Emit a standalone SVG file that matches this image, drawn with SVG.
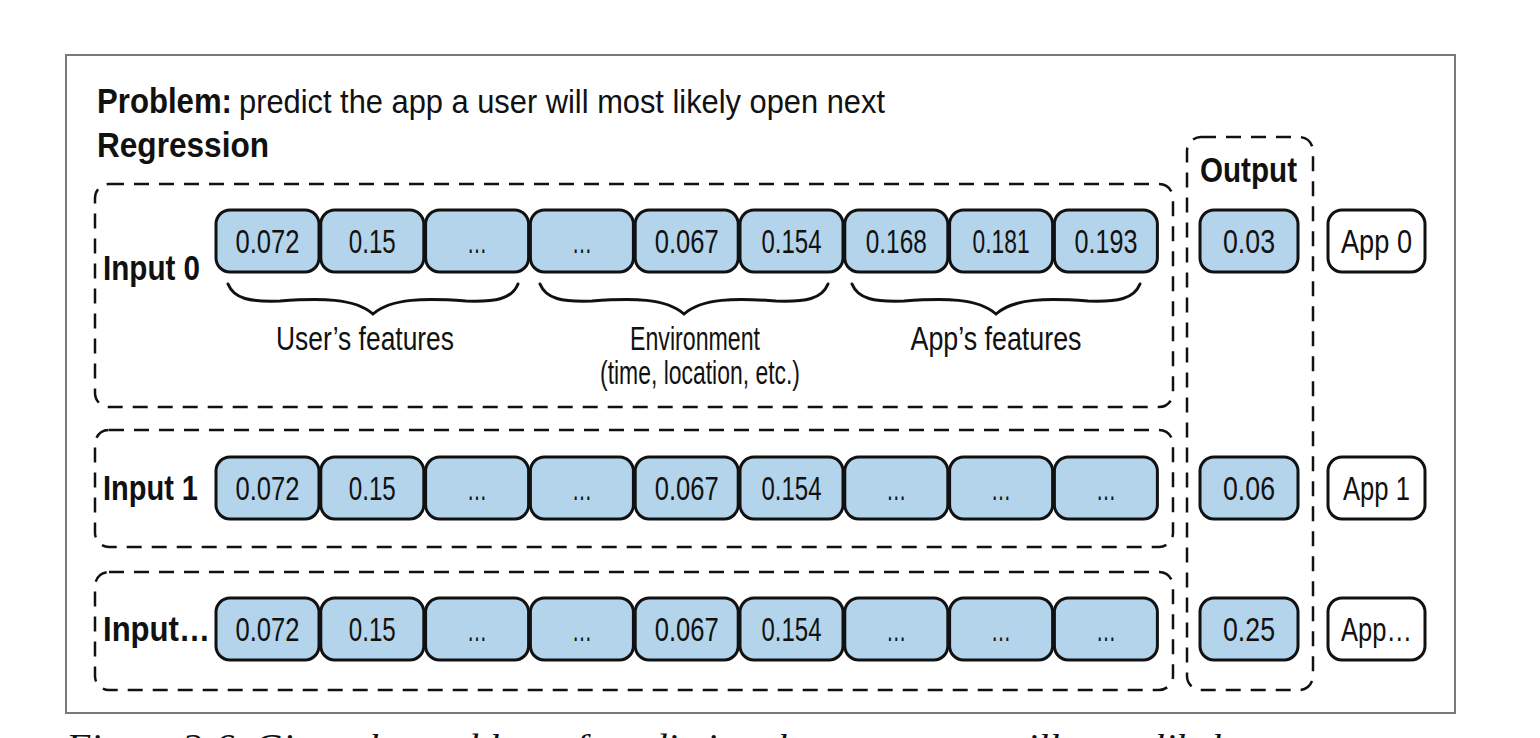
<svg xmlns="http://www.w3.org/2000/svg" width="1540" height="738" viewBox="0 0 1540 738">
<style>
.frame{fill:#fff;stroke:#7a7a7a;stroke-width:2}
.box{fill:#b3d4ea;stroke:#111;stroke-width:3}
.app{fill:#fff;stroke:#111;stroke-width:3}
.dash{fill:none;stroke:#111;stroke-width:2.5;stroke-dasharray:15 10}
.brace{fill:none;stroke:#111;stroke-width:3;stroke-linecap:round}
.num{font-family:"Liberation Sans",Arial,sans-serif;font-size:34px;text-anchor:middle;fill:#111}
.lbl{font-family:"Liberation Sans",Arial,sans-serif;font-weight:bold;font-size:35px;fill:#111}
.reg{font-family:"Liberation Sans",Arial,sans-serif;font-size:33px;fill:#111}
.cap{font-family:"Liberation Serif","Times New Roman",serif;font-style:italic;font-size:36px;fill:#111}
</style>
<rect width="1540" height="738" fill="#fff"/>
<rect class="frame" x="66" y="55" width="1389" height="658"/>

<g id="title">
<text class="lbl" x="97" y="113" font-size="34" textLength="135" lengthAdjust="spacingAndGlyphs">Problem:</text>
<text class="reg" x="239" y="113" textLength="646" lengthAdjust="spacingAndGlyphs">predict the app a user will most likely open next</text>
<text class="lbl" x="97" y="157" font-size="34" textLength="172" lengthAdjust="spacingAndGlyphs">Regression</text>
</g>

<g id="groups">
<rect id="input0-group" class="dash" x="95" y="184" width="1078" height="223" rx="14"/>
<rect id="input1-group" class="dash" x="95" y="430" width="1078" height="117" rx="14"/>
<rect id="inputn-group" class="dash" x="95" y="572" width="1078" height="118" rx="14"/>
<rect id="output-group" class="dash" x="1187" y="137" width="126" height="553" rx="14"/>
<text class="lbl" x="1200" y="182" textLength="97" lengthAdjust="spacingAndGlyphs">Output</text>
</g>

<g id="input0">
<text class="lbl" x="103" y="280" textLength="97" lengthAdjust="spacingAndGlyphs">Input 0</text>
<rect class="box" x="216" y="210" width="103" height="62" rx="14"/>
<rect class="box" x="320.8" y="210" width="103" height="62" rx="14"/>
<rect class="box" x="425.6" y="210" width="103" height="62" rx="14"/>
<rect class="box" x="530.4" y="210" width="103" height="62" rx="14"/>
<rect class="box" x="635.2" y="210" width="103" height="62" rx="14"/>
<rect class="box" x="740" y="210" width="103" height="62" rx="14"/>
<rect class="box" x="844.8" y="210" width="103" height="62" rx="14"/>
<rect class="box" x="949.6" y="210" width="103" height="62" rx="14"/>
<rect class="box" x="1054.4" y="210" width="103" height="62" rx="14"/>
<text class="num" x="267.5" y="253" textLength="64" lengthAdjust="spacingAndGlyphs">0.072</text>
<text class="num" x="372.3" y="253" textLength="47" lengthAdjust="spacingAndGlyphs">0.15</text>
<text class="num" x="477.1" y="253" textLength="20" lengthAdjust="spacingAndGlyphs">…</text>
<text class="num" x="581.9" y="253" textLength="20" lengthAdjust="spacingAndGlyphs">…</text>
<text class="num" x="686.7" y="253" textLength="64" lengthAdjust="spacingAndGlyphs">0.067</text>
<text class="num" x="791.5" y="253" textLength="60" lengthAdjust="spacingAndGlyphs">0.154</text>
<text class="num" x="896.3" y="253" textLength="61" lengthAdjust="spacingAndGlyphs">0.168</text>
<text class="num" x="1001.1" y="253" textLength="57" lengthAdjust="spacingAndGlyphs">0.181</text>
<text class="num" x="1105.9" y="253" textLength="63" lengthAdjust="spacingAndGlyphs">0.193</text>
</g>

<g id="braces">
<path class="brace" d="M228,284 C234,299 250,302 280,301 C320,298 355,298 373,314 C391,298 426,298 466,301 C496,302 512,299 518,284"/>
<path class="brace" d="M540,284 C546,299 562,302 592,301 C632,298 666,298 684,314 C702,298 736,298 776,301 C806,302 822,299 828,284"/>
<path class="brace" d="M852,284 C858,299 874,302 904,301 C944,298 978,298 996,314 C1014,298 1048,298 1088,301 C1118,302 1134,299 1140,284"/>
<text class="reg" x="365" y="350" text-anchor="middle" font-size="31" textLength="178" lengthAdjust="spacingAndGlyphs">User’s features</text>
<text class="reg" x="695" y="350" text-anchor="middle" font-size="31" textLength="130" lengthAdjust="spacingAndGlyphs">Environment</text>
<text class="reg" x="700" y="384" text-anchor="middle" font-size="31" textLength="200" lengthAdjust="spacingAndGlyphs">(time, location, etc.)</text>
<text class="reg" x="996" y="350" text-anchor="middle" font-size="31" textLength="171" lengthAdjust="spacingAndGlyphs">App’s features</text>
</g>

<g id="input1">
<text class="lbl" x="103" y="500" textLength="95" lengthAdjust="spacingAndGlyphs">Input 1</text>
<rect class="box" x="216" y="457" width="103" height="62" rx="14"/>
<rect class="box" x="320.8" y="457" width="103" height="62" rx="14"/>
<rect class="box" x="425.6" y="457" width="103" height="62" rx="14"/>
<rect class="box" x="530.4" y="457" width="103" height="62" rx="14"/>
<rect class="box" x="635.2" y="457" width="103" height="62" rx="14"/>
<rect class="box" x="740" y="457" width="103" height="62" rx="14"/>
<rect class="box" x="844.8" y="457" width="103" height="62" rx="14"/>
<rect class="box" x="949.6" y="457" width="103" height="62" rx="14"/>
<rect class="box" x="1054.4" y="457" width="103" height="62" rx="14"/>
<text class="num" x="267.5" y="500" textLength="64" lengthAdjust="spacingAndGlyphs">0.072</text>
<text class="num" x="372.3" y="500" textLength="47" lengthAdjust="spacingAndGlyphs">0.15</text>
<text class="num" x="477.1" y="500" textLength="20" lengthAdjust="spacingAndGlyphs">…</text>
<text class="num" x="581.9" y="500" textLength="20" lengthAdjust="spacingAndGlyphs">…</text>
<text class="num" x="686.7" y="500" textLength="64" lengthAdjust="spacingAndGlyphs">0.067</text>
<text class="num" x="791.5" y="500" textLength="60" lengthAdjust="spacingAndGlyphs">0.154</text>
<text class="num" x="896.3" y="500" textLength="20" lengthAdjust="spacingAndGlyphs">…</text>
<text class="num" x="1001.1" y="500" textLength="20" lengthAdjust="spacingAndGlyphs">…</text>
<text class="num" x="1105.9" y="500" textLength="20" lengthAdjust="spacingAndGlyphs">…</text>
</g>

<g id="inputn">
<text class="lbl" x="103" y="641" textLength="107" lengthAdjust="spacingAndGlyphs">Input…</text>
<rect class="box" x="216" y="598" width="103" height="62" rx="14"/>
<rect class="box" x="320.8" y="598" width="103" height="62" rx="14"/>
<rect class="box" x="425.6" y="598" width="103" height="62" rx="14"/>
<rect class="box" x="530.4" y="598" width="103" height="62" rx="14"/>
<rect class="box" x="635.2" y="598" width="103" height="62" rx="14"/>
<rect class="box" x="740" y="598" width="103" height="62" rx="14"/>
<rect class="box" x="844.8" y="598" width="103" height="62" rx="14"/>
<rect class="box" x="949.6" y="598" width="103" height="62" rx="14"/>
<rect class="box" x="1054.4" y="598" width="103" height="62" rx="14"/>
<text class="num" x="267.5" y="641" textLength="64" lengthAdjust="spacingAndGlyphs">0.072</text>
<text class="num" x="372.3" y="641" textLength="47" lengthAdjust="spacingAndGlyphs">0.15</text>
<text class="num" x="477.1" y="641" textLength="20" lengthAdjust="spacingAndGlyphs">…</text>
<text class="num" x="581.9" y="641" textLength="20" lengthAdjust="spacingAndGlyphs">…</text>
<text class="num" x="686.7" y="641" textLength="64" lengthAdjust="spacingAndGlyphs">0.067</text>
<text class="num" x="791.5" y="641" textLength="60" lengthAdjust="spacingAndGlyphs">0.154</text>
<text class="num" x="896.3" y="641" textLength="20" lengthAdjust="spacingAndGlyphs">…</text>
<text class="num" x="1001.1" y="641" textLength="20" lengthAdjust="spacingAndGlyphs">…</text>
<text class="num" x="1105.9" y="641" textLength="20" lengthAdjust="spacingAndGlyphs">…</text>
</g>

<g id="output0">
<rect class="box" x="1200" y="210" width="98" height="62" rx="14"/>
<text class="num" x="1249" y="253" textLength="52" lengthAdjust="spacingAndGlyphs">0.03</text>
</g>
<g id="output1">
<rect class="box" x="1200" y="457" width="98" height="62" rx="14"/>
<text class="num" x="1249" y="500" textLength="52" lengthAdjust="spacingAndGlyphs">0.06</text>
</g>
<g id="outputn">
<rect class="box" x="1200" y="598" width="98" height="62" rx="14"/>
<text class="num" x="1249" y="641" textLength="52" lengthAdjust="spacingAndGlyphs">0.25</text>
</g>

<g id="app0">
<rect class="app" x="1328" y="210" width="97" height="62" rx="14"/>
<text class="num" x="1376.5" y="253" textLength="71" lengthAdjust="spacingAndGlyphs">App 0</text>
</g>
<g id="app1">
<rect class="app" x="1328" y="457" width="97" height="62" rx="14"/>
<text class="num" x="1376.5" y="500" textLength="67" lengthAdjust="spacingAndGlyphs">App 1</text>
</g>
<g id="appn">
<rect class="app" x="1328" y="598" width="97" height="62" rx="14"/>
<text class="num" x="1376.5" y="641" textLength="71" lengthAdjust="spacingAndGlyphs">App…</text>
</g>

<g id="connectors"></g>

<text class="cap" x="66" y="759" textLength="1335" lengthAdjust="spacingAndGlyphs">Figure 2-6. Given the problem of predicting the app a user will most likely open next</text>
</svg>
